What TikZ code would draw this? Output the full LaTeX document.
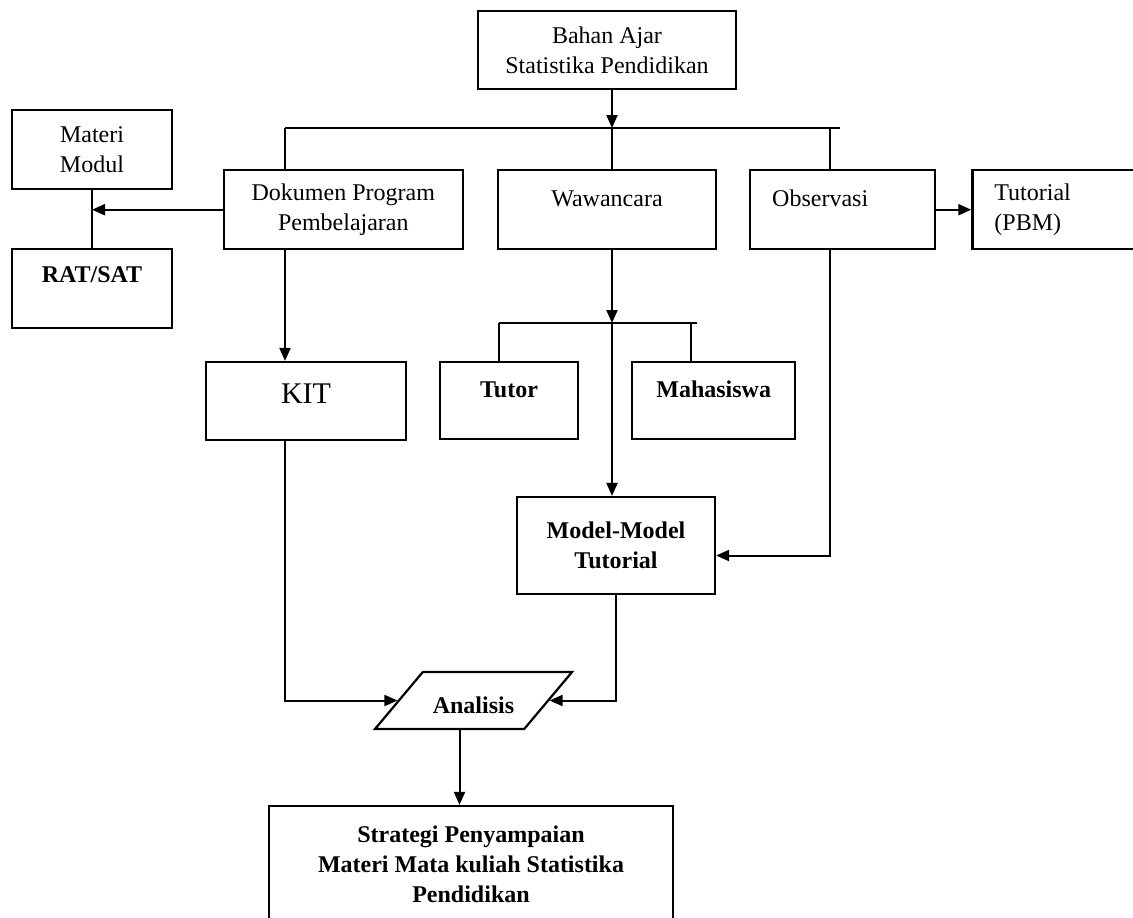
\documentclass[tikz,border=0pt]{standalone}
\usepackage{fontspec}
\setmainfont{Liberation Serif}
\usetikzlibrary{shapes.geometric, arrows.meta, positioning}

\begin{document}
\begin{tikzpicture}[
    x=0.5pt, y=-0.5pt,
    box/.style={rectangle, draw, line width=1.1pt, inner sep=0pt, align=center, font=\fontsize{12}{15}\selectfont},
    boldtext/.style={font=\fontsize{12}{15}\selectfont\bfseries},
    uptext/.style={text height=9pt, text depth=#1},
    arrow/.style={-{Triangle[length=6.5pt, width=5.5pt]}, line width=1pt},
    link/.style={line width=1pt}
]
    \path[use as bounding box, fill=white] (0,0) rectangle (1133,917);
    \clip (0,0) rectangle (1133,917);

    % top row
    \node[box, minimum width=129pt, minimum height=39pt] (bahan) at (607,50) {Bahan Ajar\\Statistika Pendidikan};
    \node[box, minimum width=109pt, minimum height=39.5pt, uptext=12pt, below=39.5pt of bahan] (wawancara) {Wawancara};
    \node[box, minimum width=119.5pt, minimum height=39.5pt, left=16.5pt of wawancara] (dokumen) {Dokumen Program\\Pembelajaran};
    \node[box, minimum width=92.5pt, minimum height=39.5pt, text width=70.5pt, align=left, uptext=12pt, right=16pt of wawancara] (observasi) {Observasi};
    \node[box, minimum width=100pt, minimum height=39.5pt, text width=78pt, align=left, right=17.5pt of observasi] (tutorial) {Tutorial\\(PBM)};

    \node[box, minimum width=80pt, minimum height=39.5pt] (materi) at (92,149.5) {Materi\\Modul};
    \node[box, boldtext, minimum width=80pt, minimum height=39.5pt, uptext=15pt, below=29pt of materi] (rat) {RAT/SAT};

    % middle row
    \node[box, font=\fontsize{15}{18}\selectfont, minimum width=100pt, minimum height=39pt, text height=11pt, text depth=9pt] (kit) at (306,401) {KIT};
    \node[box, boldtext, minimum width=69pt, minimum height=38.5pt, uptext=12pt] (tutor) at (509,400.5) {Tutor};
    \node[box, boldtext, minimum width=81.5pt, minimum height=38.5pt, uptext=12pt, right=26pt of tutor] (mahasiswa) {Mahasiswa};
    \node[box, boldtext, minimum width=99pt, minimum height=48.5pt] (model) at (616,545.5) {Model-Model\\Tutorial};

    % bottom
    \node[draw, line width=1.1pt, boldtext, trapezium, trapezium left angle=50, trapezium right angle=130,
          text width=45pt, align=center, text height=16pt, text depth=3pt,
          inner xsep=2.85pt, inner ysep=4.75pt] (analisis) at (473.5,700.5) {Analisis};
    \node[box, boldtext, minimum width=202pt, minimum height=58pt] (strategi) at (471,864) {Strategi Penyampaian\\Materi Mata kuliah Statistika\\Pendidikan};

    \coordinate (busL) at (285,128);
    \coordinate (busM) at (612,128);
    \coordinate (busO) at (830,128);
    \coordinate (busR) at (840,128);
    \coordinate (split) at (612,323);
    \coordinate (splitL) at (499,323);
    \coordinate (splitR) at (691,323);

    \draw[arrow] (bahan.south -| busM) -- (busM);
    \draw[link] (busL) -- (busR);
    \draw[link] (busL) -- (busL |- dokumen.north);
    \draw[link] (busM) -- (busM |- wawancara.north);
    \draw[link] (busO) -- (busO |- observasi.north);
    \draw[arrow] (observasi) -- (tutorial);
    \draw[arrow] (dokumen.west) -- (dokumen.west -| materi.south);
    \draw[link] (materi) -- (rat);
    \draw[arrow] (busL |- dokumen.south) -- (busL |- kit.north);

    \draw[arrow] (busM |- wawancara.south) -- (split);
    \draw[link] (splitL) -- ([xshift=3pt]splitR);
    \draw[link] (splitL) -- (splitL |- tutor.north);
    \draw[link] (splitR) -- (splitR |- mahasiswa.north);
    \draw[arrow] (split) -- (split |- model.north);
    \draw[arrow] (busO |- observasi.south) |- ([yshift=-5pt]model.east);

    \draw[arrow] (busL |- kit.south) |- (analisis.west);
    \draw[arrow] (model.south) |- (analisis.east);
    \draw[arrow] ([xshift=-7pt]analisis.south) -- ([xshift=-7pt]analisis.south |- strategi.north);
\end{tikzpicture}
\end{document}
